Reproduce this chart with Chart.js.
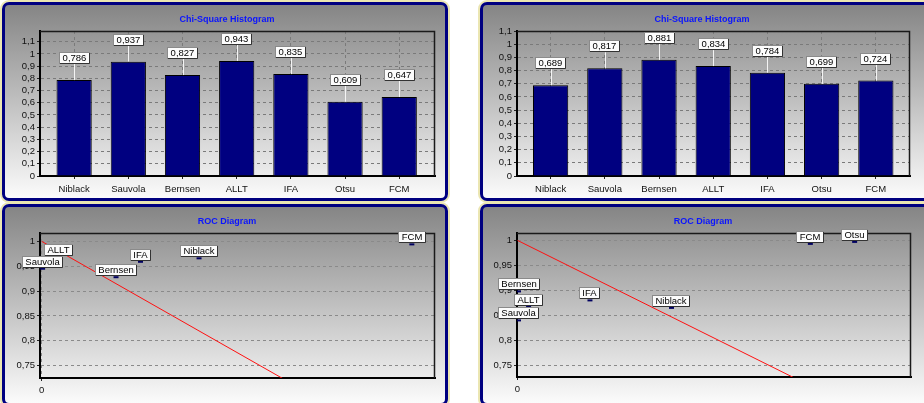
<!DOCTYPE html>
<html>
<head>
<meta charset="utf-8">
<script src="https://cdn.jsdelivr.net/npm/chart.js@4.4.1/dist/chart.umd.min.js"></script>
<style>
  html, body { margin: 0; padding: 0; background: #fff; }
  body { width: 924px; height: 403px; position: relative; overflow: hidden; }
  .panel {
    position: absolute; box-sizing: border-box;
    border: 3px solid #000080; border-radius: 7px;
    box-shadow: 0 0 0 2px #ebe6b2;
    background: linear-gradient(#858585, #fbfbfb);
  }
  canvas { position: absolute; }
</style>
</head>
<body>
<div class="panel" style="left:2px;top:2px;width:446px;height:199px"></div>
<div class="panel" style="left:480px;top:2px;width:470px;height:199px"></div>
<div class="panel" style="left:2px;top:204px;width:446px;height:202px"></div>
<div class="panel" style="left:480px;top:204px;width:470px;height:202px"></div>
<canvas id="chiLeft" width="450" height="202" style="left:0;top:0"></canvas>
<canvas id="chiRight" width="464" height="202" style="left:460px;top:0"></canvas>
<canvas id="rocLeft" width="450" height="201" style="left:0;top:202px"></canvas>
<canvas id="rocRight" width="464" height="201" style="left:460px;top:202px"></canvas>
<script>
// categories + values
const categories = ['Niblack', 'Sauvola', 'Bernsen', 'ALLT', 'IFA', 'Otsu', 'FCM'];
const chiLeftValues = [0.786, 0.937, 0.827, 0.943, 0.835, 0.609, 0.647];
const chiRightValues = [0.689, 0.817, 0.881, 0.834, 0.784, 0.699, 0.724];
const chiTicks = [0, 0.1, 0.2, 0.3, 0.4, 0.5, 0.6, 0.7, 0.8, 0.9, 1, 1.1];

// ROC points (estimated)
const rocTicks = [0.75, 0.8, 0.85, 0.9, 0.95, 1];
const rocXTicks = [0];
const rocLeftNames = ['ALLT', 'Sauvola', 'Bernsen', 'IFA', 'Niblack', 'FCM'];
const rocLeftX = [0.019, 0.001, 0.085, 0.113, 0.180, 0.4235];
const rocLeftY = [0.968, 0.945, 0.928, 0.959, 0.966, 0.994];
const rocRightNames = ['Bernsen', 'ALLT', 'Sauvola', 'IFA', 'Niblack', 'FCM', 'Otsu'];
const rocRightX = [0.001, 0.011, 0.001, 0.072, 0.153, 0.291, 0.335];
const rocRightY = [0.898, 0.867, 0.840, 0.880, 0.865, 0.993, 0.997];
const diagX = [0, 1];
const diagY = [1, 0];

const FONT = '"Liberation Sans", Arial, sans-serif';
Chart.defaults.font.family = FONT;
Chart.defaults.font.size = 9.5;
Chart.defaults.color = '#111';

const fmt = v => String(v).replace('.', ',');

function drawBox(ctx, text, cx, bottom) {
  ctx.font = '9.5px ' + FONT;
  const w = Math.round(ctx.measureText(text).width + 7);
  const h = 12;
  const x = Math.round(cx - w / 2), y = Math.round(bottom - h);
  ctx.fillStyle = '#fcfcfc';
  ctx.fillRect(x, y, w, h);
  ctx.strokeStyle = '#8a8a8a';
  ctx.lineWidth = 1;
  ctx.strokeRect(x + 0.5, y + 0.5, w - 1, h - 1);
  ctx.strokeStyle = '#333';
  ctx.beginPath();
  ctx.moveTo(x + 1, y + h - 0.5); ctx.lineTo(x + w - 0.5, y + h - 0.5); ctx.lineTo(x + w - 0.5, y + 1);
  ctx.stroke();
  ctx.fillStyle = '#000';
  ctx.textAlign = 'center';
  ctx.textBaseline = 'middle';
  ctx.fillText(text, x + w / 2, y + h / 2 + 0.5);
}

// plot frame, title and the boxed labels
const panelDeco = {
  id: 'panelDeco',
  beforeDatasetsDraw(chart) {
    const { ctx, chartArea: a } = chart;
    ctx.save();
    ctx.strokeStyle = '#1a1a1a';
    ctx.lineWidth = 1.5;
    ctx.beginPath();
    ctx.moveTo(a.left, a.top + 0.5); ctx.lineTo(a.right - 0.5, a.top + 0.5); ctx.lineTo(a.right - 0.5, a.bottom);
    ctx.stroke();
    ctx.restore();
  },
  afterDraw(chart, args, opts) {
    const ctx = chart.ctx;
    ctx.save();
    ctx.font = 'bold 9px ' + FONT;
    ctx.fillStyle = '#0a14ff';
    ctx.textAlign = 'center';
    ctx.textBaseline = 'middle';
    ctx.fillText(opts.title, opts.titleX, 20);

    const meta = chart.getDatasetMeta(opts.dataset);
    meta.data.forEach((el, i) => {
      if (opts.mode === 'bar') {
        const bottom = el.y - 16;
        ctx.strokeStyle = '#f4f4f4';
        ctx.lineWidth = 1;
        ctx.beginPath();
        ctx.moveTo(Math.round(el.x) + 0.5, bottom); ctx.lineTo(Math.round(el.x) + 0.5, el.y);
        ctx.stroke();
        drawBox(ctx, opts.labels[i], el.x, bottom);
      } else {
        drawBox(ctx, opts.labels[i], el.x, el.y - 1);
      }
    });
    ctx.restore();
  }
};

function chiChart(id, values, c) {
  return new Chart(document.getElementById(id), {
    type: 'bar',
    data: {
      datasets: [{
        data: values.map((v, i) => ({ x: i, y: v })),
        backgroundColor: '#000080',
        borderColor: '#000',
        borderWidth: 1,
        categoryPercentage: 1,
        barPercentage: 0.65
      }]
    },
    options: {
      responsive: false,
      animation: false,
      layout: { padding: { top: 31, left: 0, right: c.padRight, bottom: 0 } },
      plugins: {
        legend: { display: false },
        tooltip: { enabled: false },
        panelDeco: { title: 'Chi-Square Histogram', titleX: c.titleX, mode: 'bar', dataset: 0, labels: values.map(fmt) }
      },
      scales: {
        x: {
          type: 'linear', min: c.xMin, max: c.xMax, offset: false,
          afterBuildTicks: s => { s.ticks = categories.map((n, i) => ({ value: i })); },
          afterFit: s => { s.height = c.xHeight; },
          ticks: { callback: v => categories[v], padding: 5, maxRotation: 0, autoSkip: false, color: '#111' },
          grid: { color: '#7a7a7a', tickLength: 3, tickColor: '#222', offset: false },
          border: { color: '#000', width: 2, dash: [3, 3] }
        },
        y: {
          min: 0, max: c.yMax,
          afterBuildTicks: s => { s.ticks = chiTicks.map(v => ({ value: v })); },
          afterFit: s => { s.width = c.yWidth; },
          ticks: { callback: v => fmt(v), padding: 2, autoSkip: false, color: '#111' },
          grid: { color: '#7a7a7a', tickLength: 3, tickColor: '#222' },
          border: { color: '#000', width: 2, dash: [3, 3] }
        }
      }
    },
    plugins: [panelDeco]
  });
}

function rocChart(id, names, xs, ys, c) {
  return new Chart(document.getElementById(id), {
    type: 'scatter',
    data: {
      datasets: [{
        data: diagX.map((x, i) => ({ x, y: diagY[i] })),
        showLine: true,
        borderColor: '#ff1010',
        borderWidth: 1,
        pointRadius: 0
      }, {
        data: xs.map((x, i) => ({ x, y: ys[i] })),
        pointStyle: 'line',
        pointRadius: 2.5,
        borderColor: '#000060',
        backgroundColor: '#000060',
        borderWidth: 2
      }]
    },
    options: {
      responsive: false,
      animation: false,
      layout: { padding: { top: 31, left: 0, right: c.padRight, bottom: 0 } },
      plugins: {
        legend: { display: false },
        tooltip: { enabled: false },
        panelDeco: { title: 'ROC Diagram', titleX: c.titleX, mode: 'point', dataset: 1, labels: names }
      },
      scales: {
        x: {
          type: 'linear', min: c.xMin, max: c.xMax,
          afterBuildTicks: s => { s.ticks = rocXTicks.map(v => ({ value: v })); },
          afterFit: s => { s.height = c.xHeight; },
          ticks: { callback: v => fmt(v), padding: 4, color: '#111' },
          grid: { color: '#8a8a8a', tickLength: 3, tickColor: '#222' },
          border: { color: '#000', width: 2, dash: [3, 3] }
        },
        y: {
          min: c.yMin, max: c.yMax,
          afterBuildTicks: s => { s.ticks = rocTicks.map(v => ({ value: v })); },
          afterFit: s => { s.width = c.yWidth; },
          ticks: { callback: v => fmt(v), padding: 2, autoSkip: false, color: '#111' },
          grid: { color: '#8a8a8a', tickLength: 3, tickColor: '#222' },
          border: { color: '#000', width: 2, dash: [3, 3] }
        }
      }
    },
    plugins: [panelDeco]
  });
}

chiChart('chiLeft', chiLeftValues, { padRight: 15, xHeight: 26, yWidth: 40, yMax: 1.188, xMin: -0.63, xMax: 6.66, titleX: 227 });
chiChart('chiRight', chiRightValues, { padRight: 14, xHeight: 26, yWidth: 57, yMax: 1.1, xMin: -0.62, xMax: 6.63, titleX: 242 });
rocChart('rocLeft', rocLeftNames, rocLeftX, rocLeftY, { padRight: 15, xHeight: 25, yWidth: 40, yMin: 0.7253, yMax: 1.0169, xMin: -0.002, xMax: 0.45, titleX: 227 });
rocChart('rocRight', rocRightNames, rocRightX, rocRightY, { padRight: 13, xHeight: 26, yWidth: 57, yMin: 0.7268, yMax: 1.0148, xMin: -0.0005, xMax: 0.391, titleX: 243 });
</script>
</body>
</html>
